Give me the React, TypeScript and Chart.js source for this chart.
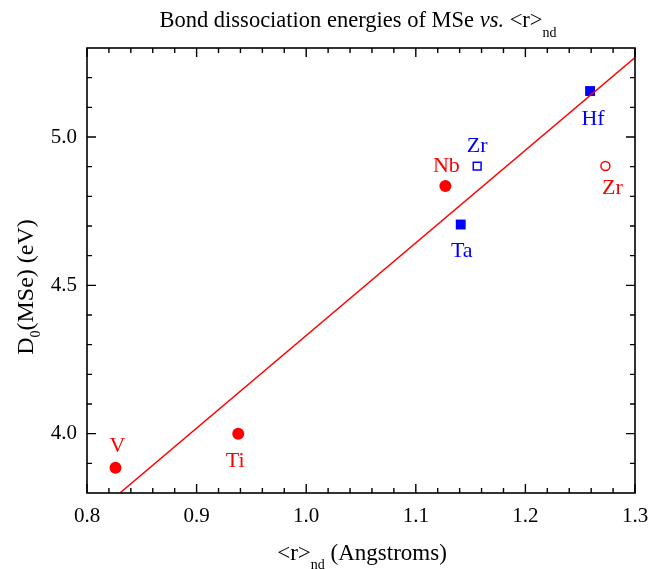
import React, { useEffect, useRef } from "react";
import { Chart, registerables } from "chart.js";

Chart.register(...registerables);

// ---- data ----
const redFilledNames = ["V", "Ti", "Nb"];
const redFilledX = [0.826, 0.938, 1.127];
const redFilledY = [3.885, 4.0, 4.835];

const blueFilledNames = ["Ta", "Hf"];
const blueFilledX = [1.141, 1.259];
const blueFilledY = [4.705, 5.155];

const blueOpenNames = ["Zr"];
const blueOpenX = [1.156];
const blueOpenY = [4.902];

const redOpenNames = ["Zr"];
const redOpenX = [1.273];
const redOpenY = [4.902];

const fitX = [0.83, 1.3];
const fitY = [3.8, 5.268];

const xTicks = [0.8, 0.9, 1.0, 1.1, 1.2, 1.3];
const yTicks = [4.0, 4.5, 5.0];
const xMinorPerMajor = 5;
const yMinorPerMajor = 5;

// label offsets (pixels, relative to marker)
const labelOffsets: Record<string, [number, number]> = {
  V: [2, -16],
  Ti: [-3, 33],
  Nb: [1, -14],
  ZrBlue: [0, -14],
  Ta: [1, 32],
  Hf: [3, 34],
  ZrRed: [7, 28],
};

const RED = "#ff0000";
const BLUE = "#0000ff";
const FONT = "'Liberation Serif', 'Times New Roman', serif";

type Seg = { t: string; it?: boolean; sub?: boolean };

function drawRich(
  ctx: CanvasRenderingContext2D,
  segs: Seg[],
  cx: number,
  baseY: number,
  size: number,
  subSize: number,
  subShift: number
) {
  const fontFor = (s: Seg) =>
    `${s.it ? "italic " : ""}${s.sub ? subSize : size}px ${FONT}`;
  let total = 0;
  for (const s of segs) {
    ctx.font = fontFor(s);
    total += ctx.measureText(s.t).width;
  }
  let x = cx - total / 2;
  ctx.textAlign = "left";
  ctx.textBaseline = "alphabetic";
  for (const s of segs) {
    ctx.font = fontFor(s);
    ctx.fillText(s.t, x, baseY + (s.sub ? subShift : 0));
    x += ctx.measureText(s.t).width;
  }
}

const decorPlugin = {
  id: "decor",
  afterDraw(chart: any) {
    const ctx: CanvasRenderingContext2D = chart.ctx;
    const { left, right, top, bottom } = chart.chartArea;
    const xs = chart.scales.x;
    const ys = chart.scales.y;
    ctx.save();
    ctx.strokeStyle = "#000";
    ctx.lineWidth = 1.6;
    ctx.strokeRect(left, top, right - left, bottom - top);

    const major = 9;
    const minor = 5;
    ctx.lineWidth = 1.4;
    ctx.beginPath();
    for (let i = 0; i < xTicks.length; i++) {
      const v = xTicks[i];
      const px = xs.getPixelForValue(v);
      ctx.moveTo(px, bottom);
      ctx.lineTo(px, bottom - major);
      ctx.moveTo(px, top);
      ctx.lineTo(px, top + major);
      if (i < xTicks.length - 1) {
        const step = (xTicks[i + 1] - v) / xMinorPerMajor;
        for (let k = 1; k < xMinorPerMajor; k++) {
          const mp = xs.getPixelForValue(v + k * step);
          ctx.moveTo(mp, bottom);
          ctx.lineTo(mp, bottom - minor);
          ctx.moveTo(mp, top);
          ctx.lineTo(mp, top + minor);
        }
      }
    }
    const yStep = (yTicks[1] - yTicks[0]) / yMinorPerMajor;
    const yStart = yTicks[0] - Math.floor((yTicks[0] - ys.min) / yStep + 1e-6) * yStep;
    for (let v = yStart; v <= ys.max + 1e-6; v += yStep) {
      const isMajor = yTicks.some((t) => Math.abs(t - v) < 1e-6);
      const len = isMajor ? major : minor;
      const py = ys.getPixelForValue(v);
      if (Math.abs(py - bottom) < 1 || Math.abs(py - top) < 1) continue;
      ctx.moveTo(left, py);
      ctx.lineTo(left + len, py);
      ctx.moveTo(right, py);
      ctx.lineTo(right - len, py);
    }
    ctx.stroke();

    ctx.fillStyle = "#000";
    drawRich(
      ctx,
      [
        { t: "Bond dissociation energies of MSe " },
        { t: "vs.", it: true },
        { t: " <r>" },
        { t: "nd", sub: true },
      ],
      358,
      27,
      22.5,
      14,
      10
    );
    drawRich(
      ctx,
      [{ t: "<r>" }, { t: "nd", sub: true }, { t: " (Angstroms)" }],
      362,
      560,
      23,
      14,
      9
    );
    ctx.save();
    ctx.translate(33, 287);
    ctx.rotate(-Math.PI / 2);
    drawRich(
      ctx,
      [{ t: "D" }, { t: "0", sub: true }, { t: "(MSe) (eV)" }],
      0,
      0,
      24,
      14,
      7
    );
    ctx.restore();

    const drawLabel = (name: string, key: string, x: number, y: number, color: string) => {
      const px = xs.getPixelForValue(x);
      const py = ys.getPixelForValue(y);
      const off = labelOffsets[key];
      ctx.fillStyle = color;
      ctx.font = `22px ${FONT}`;
      ctx.textAlign = "center";
      ctx.textBaseline = "alphabetic";
      ctx.fillText(name, px + off[0], py + off[1]);
    };
    redFilledNames.forEach((n, i) => drawLabel(n, n, redFilledX[i], redFilledY[i], RED));
    blueFilledNames.forEach((n, i) => drawLabel(n, n, blueFilledX[i], blueFilledY[i], BLUE));
    blueOpenNames.forEach((n, i) => drawLabel(n, "ZrBlue", blueOpenX[i], blueOpenY[i], BLUE));
    redOpenNames.forEach((n, i) => drawLabel(n, "ZrRed", redOpenX[i], redOpenY[i], RED));
    ctx.restore();
  },
};

const toPts = (xs: number[], ys: number[]) => xs.map((x, i) => ({ x, y: ys[i] }));

export default function App() {
  const ref = useRef<HTMLCanvasElement | null>(null);
  useEffect(() => {
    if (!ref.current) return;
    const chart = new Chart(ref.current, {
      type: "scatter",
      data: {
        datasets: [
          {
            label: "fit",
            data: toPts(fitX, fitY),
            showLine: true,
            borderColor: RED,
            borderWidth: 1.5,
            pointRadius: 0,
            fill: false,
          },
          {
            label: "redFilled",
            data: toPts(redFilledX, redFilledY),
            pointStyle: "circle",
            pointRadius: 6,
            backgroundColor: RED,
            borderColor: RED,
            borderWidth: 0,
          },
          {
            label: "blueFilled",
            data: toPts(blueFilledX, blueFilledY),
            pointStyle: "rect",
            pointRadius: 7,
            backgroundColor: BLUE,
            borderColor: BLUE,
            borderWidth: 0,
          },
          {
            label: "blueOpen",
            data: toPts(blueOpenX, blueOpenY),
            pointStyle: "rect",
            pointRadius: 5.5,
            backgroundColor: "#fff",
            borderColor: BLUE,
            borderWidth: 1.5,
          },
          {
            label: "redOpen",
            data: toPts(redOpenX, redOpenY),
            pointStyle: "circle",
            pointRadius: 4.5,
            backgroundColor: "#fff",
            borderColor: RED,
            borderWidth: 1.5,
          },
        ],
      },
      options: {
        responsive: false,
        animation: false,
        layout: { padding: { left: 0, top: 48, right: 16, bottom: 0 } },
        plugins: {
          legend: { display: false },
          title: { display: false },
          tooltip: { enabled: false },
        },
        scales: {
          x: {
            type: "linear",
            min: 0.8,
            max: 1.3,
            grid: { display: false, drawTicks: false },
            border: { display: false },
            afterBuildTicks: (s: any) => {
              s.ticks = xTicks.map((v) => ({ value: v }));
            },
            afterFit: (s: any) => {
              s.height = 76;
              s.paddingLeft = 0;
              s.paddingRight = 0;
            },
            ticks: {
              padding: 11,
              maxRotation: 0,
              color: "#000",
              font: { family: FONT, size: 21 },
              callback: (v: any) => Number(v).toFixed(1),
            },
          },
          y: {
            type: "linear",
            min: 3.8,
            max: 5.3,
            grid: { display: false, drawTicks: false },
            border: { display: false },
            afterBuildTicks: (s: any) => {
              s.ticks = yTicks.map((v) => ({ value: v }));
            },
            afterFit: (s: any) => {
              s.width = 87;
              s.paddingTop = 0;
              s.paddingBottom = 0;
            },
            ticks: {
              padding: 10,
              color: "#000",
              font: { family: FONT, size: 21 },
              callback: (v: any) => Number(v).toFixed(1),
            },
          },
        },
      },
      plugins: [decorPlugin],
    });
    return () => chart.destroy();
  }, []);
  return (
    <div style={{ position: "fixed", left: 0, top: 0, width: 651, height: 569, background: "#fff" }}>
      <canvas ref={ref} width={651} height={569} style={{ width: 651, height: 569 }} />
    </div>
  );
}
